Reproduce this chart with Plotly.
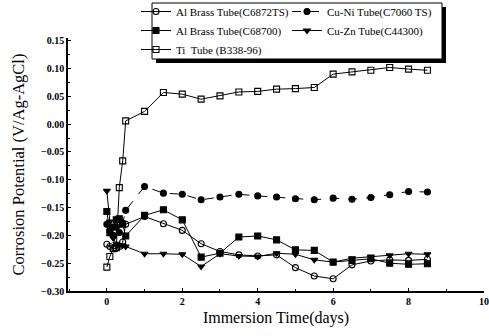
import plotly.graph_objects as go

# Immersion times (days)
days = [0, 0.08, 0.17, 0.25, 0.33, 0.42, 0.5,
        1.0, 1.5, 2.0, 2.5, 3.0, 3.5, 4.0, 4.5, 5.0, 5.5, 6.0, 6.5, 7.0, 7.5, 8.0, 8.5]

# Corrosion potential (V vs Ag/AgCl)
al_brass_c6872ts = [-0.216, -0.220, -0.224, -0.223, -0.220, -0.212, -0.180,
                    -0.166, -0.179, -0.191, -0.215, -0.229, -0.235, -0.237, -0.235,
                    -0.258, -0.273, -0.278, -0.253, -0.246, -0.244, -0.245, -0.243]
cu_ni_c7060ts = [-0.180, -0.190, -0.200, -0.185, -0.195, -0.178, -0.155,
                 -0.112, -0.124, -0.126, -0.136, -0.131, -0.126, -0.129, -0.131,
                 -0.134, -0.136, -0.133, -0.135, -0.132, -0.127, -0.121, -0.122]
al_brass_c68700 = [-0.157, -0.195, -0.185, -0.172, -0.170, -0.180, -0.201,
                   -0.164, -0.154, -0.172, -0.239, -0.232, -0.203, -0.201, -0.208,
                   -0.226, -0.227, -0.248, -0.245, -0.242, -0.250, -0.252, -0.251]
cu_zn_c44300 = [-0.120, -0.175, -0.205, -0.215, -0.218, -0.218, -0.220,
                -0.233, -0.233, -0.234, -0.256, -0.233, -0.237, -0.238, -0.232,
                -0.234, -0.244, -0.248, -0.241, -0.238, -0.236, -0.233, -0.234]
ti_b338 = [-0.257, -0.238, -0.224, -0.222, -0.114, -0.066, 0.006,
           0.023, 0.057, 0.054, 0.045, 0.051, 0.058, 0.059, 0.063,
           0.064, 0.066, 0.090, 0.094, 0.097, 0.102, 0.099, 0.097]

# name, values, marker symbol, line dash, legend column
series = [
    ("Al Brass Tube(C6872TS)", al_brass_c6872ts, "circle-open", "solid", "legend"),
    ("Al Brass Tube(C68700)", al_brass_c68700, "square", "solid", "legend"),
    ("Ti  Tube (B338-96)", ti_b338, "square-open", "solid", "legend"),
    ("Cu-Ni Tube(C7060 TS)", cu_ni_c7060ts, "circle", "dash", "legend2"),
    ("Cu-Zn Tube(C44300)", cu_zn_c44300, "triangle-down", "solid", "legend2"),
]

SERIF = "Liberation Serif, Times New Roman, serif"

fig = go.Figure()
for name, vals, sym, dash, leg in series:
    fig.add_trace(go.Scatter(
        x=days, y=vals, name=name, mode="lines+markers", legend=leg,
        line=dict(color="black", width=1, dash=dash),
        marker=dict(symbol=sym, size=6, color="black",
                    line=dict(color="black", width=1.1)),
    ))

L, R, T, B = 68, 5, 38, 45
W, H = 489, 336
pw, ph = W - L - R, H - T - B


def px_to_paper(x, y):
    return (x - L) / pw, (H - B - y) / ph


# legend frame with a heavy drop shadow
bx0, by0 = px_to_paper(152, 3)
bx1, by1 = px_to_paper(442, 59)
dx, dy = 4 / pw, 4 / ph
fig.add_shape(type="rect", xref="paper", yref="paper",
              x0=bx0 + dx, y0=by1 - dy, x1=bx1 + dx, y1=by0 - dy,
              fillcolor="black", line=dict(width=0), layer="above")
fig.add_shape(type="rect", xref="paper", yref="paper",
              x0=bx0, y0=by1, x1=bx1, y1=by0,
              fillcolor="white", line=dict(color="black", width=1), layer="above")

l1x, l1y = px_to_paper(136, -3)
l2x, l2y = px_to_paper(287, -3)
leg_common = dict(
    orientation="v", xanchor="left", yanchor="top",
    bgcolor="rgba(0,0,0,0)", borderwidth=0,
    font=dict(family=SERIF, size=11, color="black"),
    tracegroupgap=0, itemwidth=30,
)

fig.update_layout(
    width=W, height=H,
    margin=dict(l=L, r=R, t=T, b=B, autoexpand=False),
    paper_bgcolor="white", plot_bgcolor="white",
    font=dict(family=SERIF, color="black"),
    showlegend=True,
    legend=dict(x=l1x, y=l1y, **leg_common),
    legend2=dict(x=l2x, y=l2y, **leg_common),
    xaxis=dict(
        range=[-1.03, 10], tickvals=[0, 2, 4, 6, 8, 10],
        ticks="inside", ticklen=3, tickcolor="black",
        minor=dict(dtick=1, ticks="inside", ticklen=2, tickcolor="black"),
        showline=True, linecolor="black", linewidth=1.5,
        showgrid=False, zeroline=False,
        tickfont=dict(family=SERIF, size=10, color="black", weight="bold"),
        title=dict(text="Immersion Time(days)", font=dict(family=SERIF, size=16), standoff=6),
    ),
    yaxis=dict(
        range=[-0.30, 0.155], dtick=0.05, tick0=0, tickformat=".2f",
        ticks="inside", ticklen=3, tickcolor="black",
        minor=dict(dtick=0.025, ticks="inside", ticklen=2, tickcolor="black"),
        showline=True, linecolor="black", linewidth=1.5,
        showgrid=False, zeroline=False,
        tickfont=dict(family=SERIF, size=10, color="black", weight="bold"),
        title=dict(text="Corrosion Potential (V/Ag-AgCl)", font=dict(family=SERIF, size=16.5), standoff=12),
    ),
)

fig.write_html("out.html")
